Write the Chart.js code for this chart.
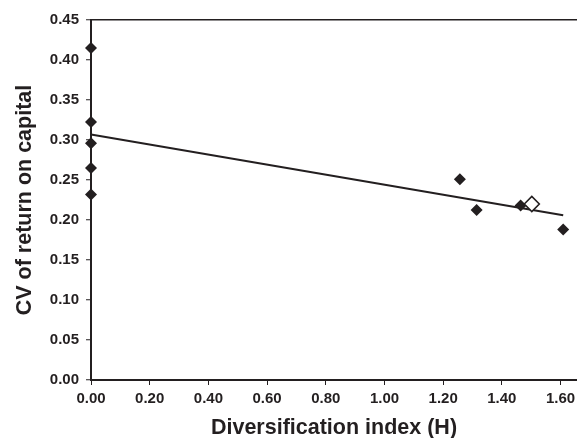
<!DOCTYPE html>
<html>
<head>
<meta charset="utf-8">
<script src="https://cdn.jsdelivr.net/npm/chart.js@4"></script>
<style>
  body { margin: 0; background: #fff; }
  #wrap { width: 577px; height: 438px; }
</style>
</head>
<body>
<div id="wrap"><canvas id="cvChart"></canvas></div>
<script>
// firms, diversification index vs CV of return on capital
var firmH  = [0, 0, 0, 0, 0, 1.257, 1.314, 1.464, 1.609];
var firmCV = [0.415, 0.3225, 0.296, 0.265, 0.232, 0.251, 0.2125, 0.218, 0.188];

// the one highlighted firm (open marker)
var openH  = [1.502];
var openCV = [0.220];

// trend line ends
var trendH  = [0, 1.609];
var trendCV = [0.307, 0.206];

var xTicks = [0, 0.2, 0.4, 0.6, 0.8, 1.0, 1.2, 1.4, 1.6];

function toPoints(xs, ys) {
    var pts = [];
    for (var i = 0; i < xs.length; i++) {
        pts.push({ x: xs[i], y: ys[i] });
    }
    return pts;
}

var ink = '#231f20';
var ctx = document.getElementById('cvChart').getContext('2d');

var chart = new Chart(ctx, {
    type: 'scatter',
    data: {
        datasets: [{
            label: 'trend',
            type: 'line',
            data: toPoints(trendH, trendCV),
            borderColor: ink,
            borderWidth: 2,
            pointRadius: 0,
            fill: false,
            clip: false,
            order: 3
        }, {
            label: 'firms',
            data: toPoints(firmH, firmCV),
            pointStyle: 'rectRot',
            pointRadius: 6,
            backgroundColor: ink,
            borderColor: ink,
            borderWidth: 0,
            clip: false,
            order: 2
        }, {
            label: 'highlighted',
            data: toPoints(openH, openCV),
            pointStyle: 'rectRot',
            pointRadius: 7.5,
            backgroundColor: '#fff',
            borderColor: ink,
            borderWidth: 1.6,
            clip: false,
            order: 1
        }]
    },
    options: {
        responsive: true,
        maintainAspectRatio: false,
        animation: false,
        layout: {
            autoPadding: false, // plot box runs to the right edge
            padding: { top: 20, right: 0, bottom: 0, left: 0 }
        },
        plugins: {
            legend: { display: false },
            tooltip: { enabled: false }
        },
        scales: {
            x: {
                type: 'linear',
                min: 0,
                max: 1.656,
                afterBuildTicks: function (scale) {
                    scale.ticks = xTicks.map(function (v) { return { value: v }; });
                },
                afterFit: function (scale) {
                    scale.height = 58;
                    scale.paddingLeft = 0;
                    scale.paddingRight = 0;
                },
                ticks: {
                    padding: 5,
                    color: ink,
                    font: { family: 'Liberation Sans', size: 15, weight: 'bold' },
                    callback: function (v) { return Number(v).toFixed(2); },
                    maxRotation: 0,
                    autoSkip: false
                },
                grid: {
                    drawOnChartArea: false,
                    tickLength: 5,
                    tickColor: ink,
                    lineWidth: 1
                },
                border: { color: ink, width: 2 },
                title: {
                    display: true,
                    text: 'Diversification index (H)',
                    color: ink,
                    font: { family: 'Liberation Sans', size: 21.5, weight: 'bold' },
                    padding: { top: 0, bottom: -3 }
                }
            },
            y: {
                min: 0,
                max: 0.45,
                ticks: {
                    stepSize: 0.05,
                    padding: 7,
                    color: ink,
                    font: { family: 'Liberation Sans', size: 15, weight: 'bold' },
                    callback: function (v) { return Number(v).toFixed(2); }
                },
                afterFit: function (scale) {
                    scale.width = 91;
                    scale.paddingTop = 0;
                    scale.paddingBottom = 0;
                },
                grid: {
                    // only the top line closes the plot box
                    color: function (c) {
                        return c.tick && Math.abs(c.tick.value - 0.45) < 1e-6 ? ink : 'rgba(0,0,0,0)';
                    },
                    lineWidth: 1.5,
                    tickLength: 5,
                    tickColor: ink,
                    tickWidth: 1
                },
                border: { color: ink, width: 2 },
                title: {
                    display: true,
                    text: 'CV of return on capital',
                    color: ink,
                    font: { family: 'Liberation Sans', size: 21.5, weight: 'bold' },
                    padding: { top: 12, bottom: 0 }
                }
            }
        }
    }
});
</script>
</body>
</html>
